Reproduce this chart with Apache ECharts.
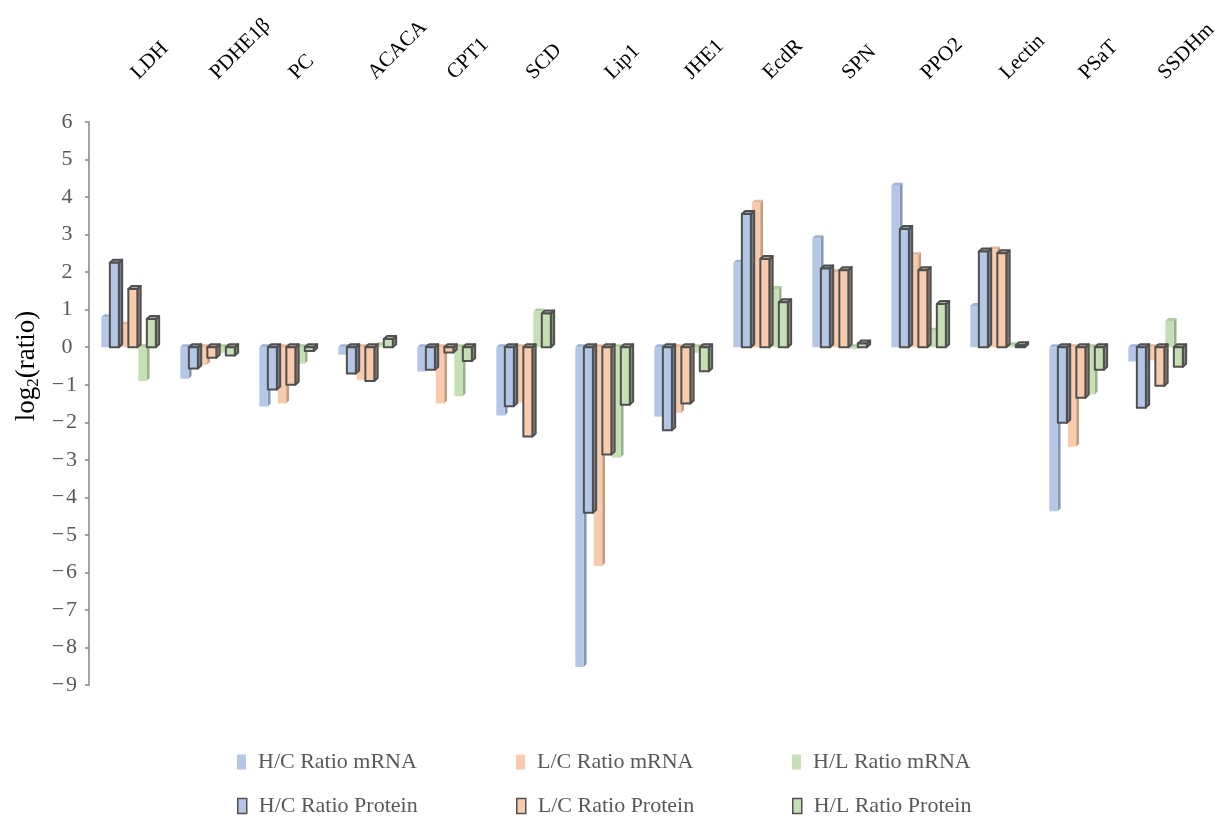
<!DOCTYPE html>
<html>
<head>
<meta charset="utf-8">
<title>log2 ratio of mRNA and protein</title>
<script src="https://cdn.jsdelivr.net/npm/echarts@6/dist/echarts.min.js"></script>
<style>
  html, body { margin: 0; padding: 0; background: #ffffff; }
  #chart { width: 1221px; height: 816px; }
</style>
</head>
<body>
<div id="chart"></div>
<script>
// Genes along the top axis
const categories = ['LDH', 'PDHE1β', 'PC', 'ACACA', 'CPT1', 'SCD', 'Lip1', 'JHE1', 'EcdR', 'SPN', 'PPO2', 'Lectin', 'PSaT', 'SSDHm'];

// log2 ratios per gene
const hcMrna    = [0.8, -0.84, -1.58, -0.2, -0.65, -1.82, -8.52, -1.85, 2.25, 2.9, 4.3, 1.1, -4.37, -0.38];
const hcProtein = [2.25, -0.57, -1.13, -0.7, -0.6, -1.57, -4.41, -2.21, 3.55, 2.1, 3.15, 2.55, -2.01, -1.61];
const lcMrna    = [0.6, -0.47, -1.5, -0.87, -1.5, -1.48, -5.83, -1.75, 3.85, 2.0, 2.45, 2.6, -2.65, -0.35];
const lcProtein = [1.55, -0.28, -1.0, -0.9, -0.14, -2.38, -2.86, -1.5, 2.35, 2.05, 2.05, 2.5, -1.35, -1.03];
const hlMrna    = [-0.9, -0.15, -0.44, 0.05, -1.31, 0.95, -2.94, -0.15, 1.55, -0.05, 0.44, 0.05, -1.26, 0.7];
const hlProtein = [0.75, -0.22, -0.1, 0.22, -0.37, 0.9, -1.53, -0.64, 1.2, 0.1, 1.15, 0.05, -0.6, -0.52];

// Y axis range
const yMin = -9, yMax = 6, yStep = 1;

const SERIF = '"Liberation Serif", "Times New Roman", serif';
const OUTLINE = '#505050';

const palette = {
  blue:   { front: '#b4c7e7', top: '#9fb3d6', side: '#8496b4', pTop: '#8c9ab3', pSide: '#6f7b90' },
  orange: { front: '#f8cbad', top: '#e7b898', side: '#c39c82', pTop: '#c2a590', pSide: '#9d8372' },
  green:  { front: '#c5e0b4', top: '#b1cc9f', side: '#98b08a', pTop: '#a2b695', pSide: '#7f9174' }
};

// Draws one pseudo-3D column: front face, top face and right side face
function columnRenderer(pair, isProtein, col) {
  return function (params, api) {
    const ci = api.value(0);
    const v = api.value(1);
    const p0 = api.coord([ci, 0]);
    const p1 = api.coord([ci, v]);
    const band = api.size([1, 0])[0];
    const catStart = p0[0] - band / 2;
    const w = band * (isProtein ? 0.114 : 0.106);
    const x0 = catStart + band * (0.156 + 0.234 * pair + (isProtein ? 0.108 : 0));
    const x1 = x0 + w;
    const dx = band * (isProtein ? 0.042 : 0.036);
    const dy = 3;
    const yT = Math.min(p0[1], p1[1]);
    const yB = Math.max(p0[1], p1[1]);
    const edge = isProtein ? { stroke: OUTLINE, lineWidth: 2, lineJoin: 'round' } : { lineWidth: 0 };
    return {
      type: 'group',
      children: [
        {
          type: 'polygon',
          shape: { points: [[x1, yT], [x1 + dx, yT - dy], [x1 + dx, yB - dy], [x1, yB]] },
          style: Object.assign({ fill: isProtein ? col.pSide : col.side }, edge)
        },
        {
          type: 'polygon',
          shape: { points: [[x0, yT], [x1, yT], [x1 + dx, yT - dy], [x0 + dx, yT - dy]] },
          style: Object.assign({ fill: isProtein ? col.pTop : col.top }, edge)
        },
        {
          type: 'rect',
          shape: { x: x0, y: yT, width: w, height: yB - yT },
          style: Object.assign({ fill: col.front }, edge)
        }
      ]
    };
  };
}

function toPairs(arr) {
  return arr.map(function (v, i) { return [i, v]; });
}

const seriesDefs = [
  { name: 'H/C Ratio mRNA',    values: hcMrna,    pair: 0, protein: false, col: palette.blue },
  { name: 'L/C Ratio mRNA',    values: lcMrna,    pair: 1, protein: false, col: palette.orange },
  { name: 'H/L Ratio mRNA',    values: hlMrna,    pair: 2, protein: false, col: palette.green },
  { name: 'H/C Ratio Protein', values: hcProtein, pair: 0, protein: true,  col: palette.blue },
  { name: 'L/C Ratio Protein', values: lcProtein, pair: 1, protein: true,  col: palette.orange },
  { name: 'H/L Ratio Protein', values: hlProtein, pair: 2, protein: true,  col: palette.green }
];

const series = seriesDefs.map(function (d) {
  return {
    type: 'custom',
    name: d.name,
    xAxisIndex: 0,
    yAxisIndex: 0,
    renderItem: columnRenderer(d.pair, d.protein, d.col),
    encode: { x: 0, y: 1 },
    itemStyle: { color: d.col.front },
    data: toPairs(d.values),
    animation: false,
    silent: true
  };
});

// One legend block per entry so the columns line up
const legendLefts = [232, 511, 787];
const legendTops = [746, 790];
const legends = seriesDefs.map(function (d, i) {
  return {
    left: legendLefts[i % 3],
    top: legendTops[Math.floor(i / 3)],
    itemWidth: 9,
    itemHeight: 15,
    selectedMode: false,
    textStyle: { fontFamily: SERIF, fontSize: 22, color: '#595959', padding: [0, 0, 0, 7] },
    data: [{
      name: d.name,
      icon: 'rect',
      itemStyle: d.protein
        ? { color: d.col.front, borderColor: OUTLINE, borderWidth: 1.5 }
        : { color: d.col.front, borderWidth: 0 }
    }]
  };
});

const option = {
  backgroundColor: '#ffffff',
  animation: false,
  legend: legends,
  grid: [
    { left: 89, top: 122, width: 1106, height: 563, containLabel: false },
    { left: 95, top: 84, width: 1106, height: 563, containLabel: false }
  ],
  xAxis: [
    {
      type: 'category',
      gridIndex: 0,
      data: categories,
      position: 'top',
      boundaryGap: true,
      axisLine: { show: false },
      axisTick: { show: false },
      axisLabel: { show: false },
      splitLine: { show: false }
    },
    {
      type: 'category',
      gridIndex: 1,
      data: categories,
      position: 'top',
      boundaryGap: true,
      axisLine: { show: false },
      axisTick: { show: false },
      splitLine: { show: false },
      axisLabel: {
        interval: 0,
        rotate: 45,
        margin: 8,
        fontFamily: SERIF,
        fontSize: 21,
        color: '#000000'
      }
    }
  ],
  yAxis: [
    {
      type: 'value',
      gridIndex: 0,
      min: yMin,
      max: yMax,
      interval: yStep,
      axisLine: { show: true, lineStyle: { color: '#868686', width: 1.5 } },
      axisTick: { show: true, inside: false, length: 4, lineStyle: { color: '#868686', width: 1.5 } },
      splitLine: { show: false },
      axisLabel: {
        margin: 12,
        fontFamily: SERIF,
        fontSize: 22,
        color: '#595959',
        formatter: function (v) {
          return v < 0 ? '\u2212\u200a' + Math.abs(v) : v + '\u2009';
        }
      }
    },
    {
      type: 'value',
      gridIndex: 1,
      min: yMin,
      max: yMax,
      show: false
    }
  ],
  graphic: [
    {
      type: 'text',
      x: 27,
      y: 366,
      rotation: Math.PI / 2,
      silent: true,
      style: {
        text: '{m|log}{s|2}{m|(ratio)}',
        align: 'center',
        verticalAlign: 'middle',
        fill: '#000000',
        rich: {
          m: { fontFamily: SERIF, fontSize: 27, lineHeight: 30, verticalAlign: 'middle', fill: '#000000' },
          s: { fontFamily: SERIF, fontSize: 17, lineHeight: 30, verticalAlign: 'bottom', padding: [10, 0, 0, 0], fill: '#000000' }
        }
      }
    }
  ],
  series: series
};

const chart = echarts.init(document.getElementById('chart'), null, { renderer: 'canvas' });
chart.setOption(option);
</script>
</body>
</html>
